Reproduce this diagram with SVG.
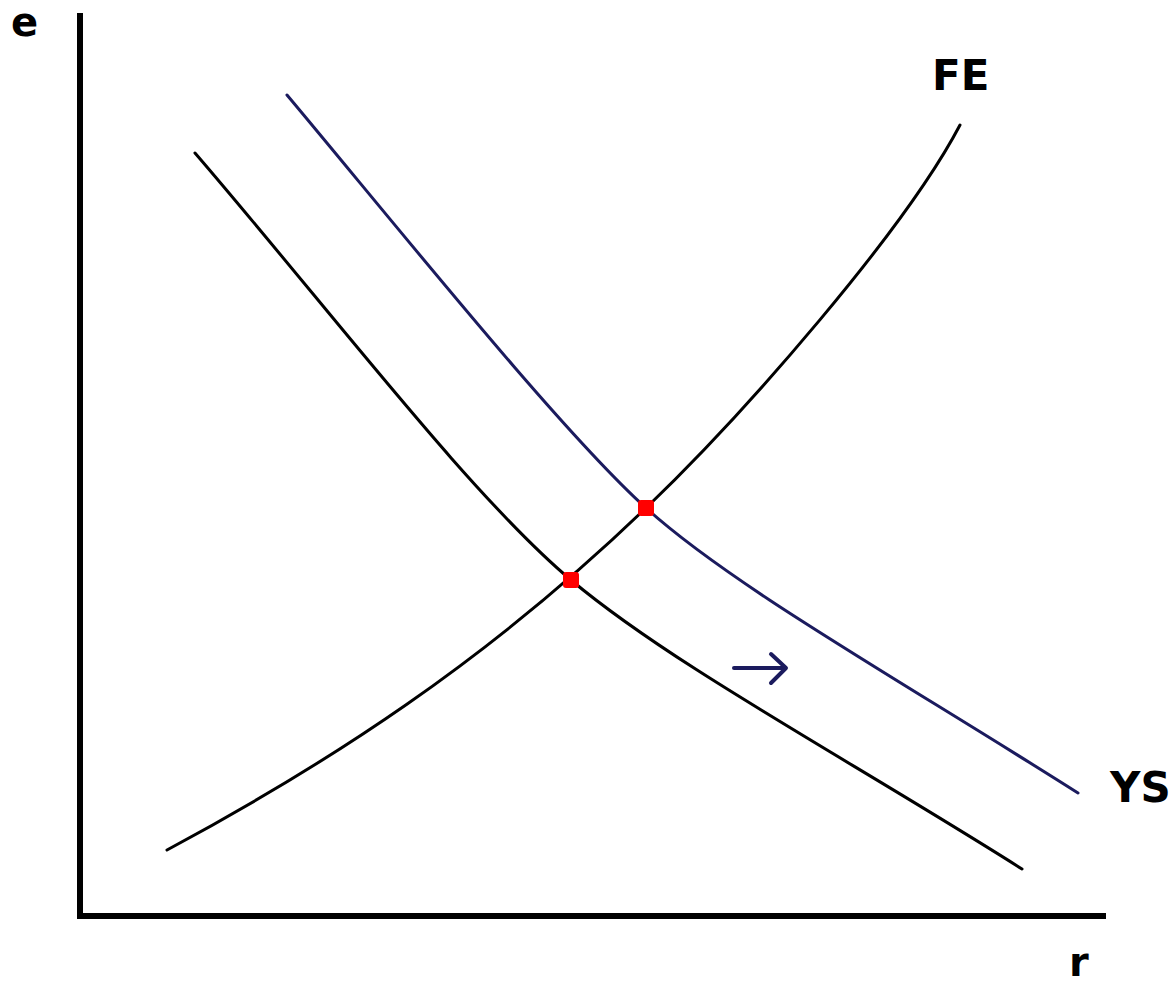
<svg xmlns="http://www.w3.org/2000/svg" width="1172" height="984" viewBox="0 0 1172 984">
<style>
.lbl{font-family:"DejaVu Sans","Verdana",sans-serif;font-weight:bold;fill:#000}
.crv{fill:none;stroke-width:3;stroke-linecap:round;stroke-linejoin:round}
.blk{stroke:#000}
.nvy{stroke:#1b1b5e}
.dot{fill:#ff0000}
</style>
<rect width="1172" height="984" fill="#fff"/>
<g id="axes">
<path d="M80,13 V916 H1106" fill="none" stroke="#000" stroke-width="6"/>
</g>
<g id="connectors">
<path id="FE-curve" class="crv blk" d="M167,850 C327,764 486,662 646,508 C746,412 905,230 960,125"/>
<path id="YS-old" class="crv blk" d="M195,153 C330,310 470,495 571,580 C672,665 850,760 1022,869"/>
<path id="YS-new" class="crv nvy" d="M287,95 C400,230 560,430 646,508 C732,586 900,680 1078,793"/>
<g id="shift-arrow" fill="none" stroke="#1b1b5e" stroke-width="4" stroke-linecap="round" stroke-linejoin="round">
<line x1="734" y1="668" x2="785" y2="668"/>
<polyline points="771,654 786,668 771,683"/>
</g>
</g>
<g id="eq1"><rect class="dot" x="563" y="572" width="16" height="16" rx="3"/></g>
<g id="eq2"><rect class="dot" x="638" y="500" width="16" height="16" rx="3"/></g>
<g id="label-e"><text class="lbl" x="11" y="36" font-size="40">e</text></g>
<g id="label-FE"><text class="lbl" x="932" y="90" font-size="42">FE</text></g>
<g id="label-YS"><text class="lbl" x="1110" y="802" font-size="42">YS</text></g>
<g id="label-r"><text class="lbl" x="1069" y="976" font-size="40">r</text></g>
</svg>
